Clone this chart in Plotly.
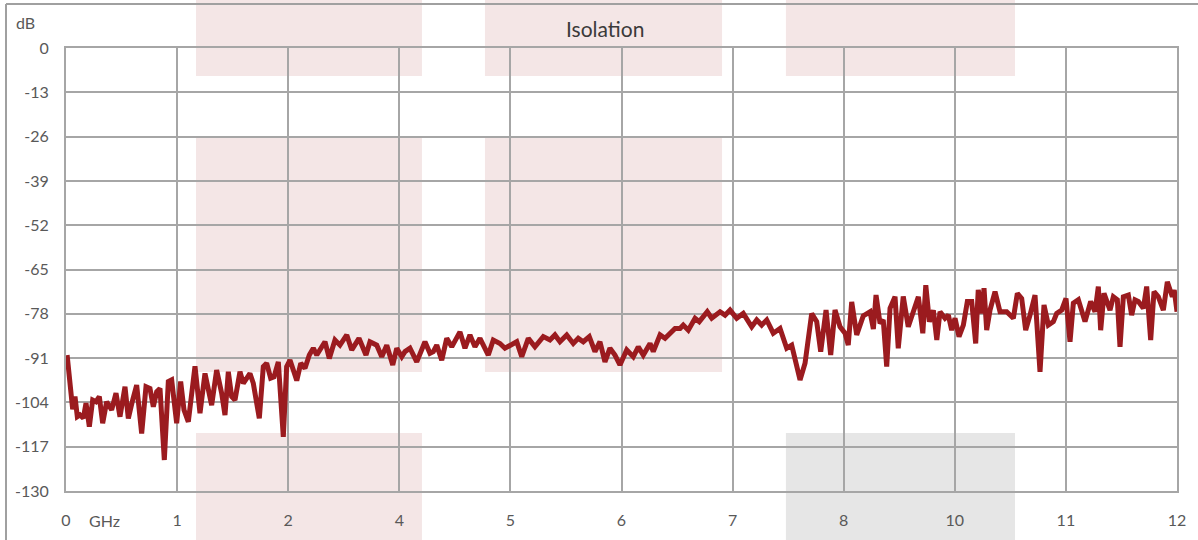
import plotly.graph_objects as go

# x position along the axis (one unit per labelled division), y isolation in dB
freq_pos = [0.01, 0.060, 0.081, 0.102, 0.126, 0.156, 0.180, 0.210, 0.240, 0.270, 0.300, 0.330, 0.366, 0.411,
            0.450, 0.486, 0.531, 0.561, 0.600, 0.636, 0.681, 0.720, 0.756, 0.786, 0.816, 0.846, 0.885, 0.921,
            0.951, 0.996, 1.032, 1.062, 1.101, 1.161, 1.206, 1.251, 1.311, 1.356, 1.401, 1.431, 1.461, 1.491,
            1.521, 1.566, 1.596, 1.626, 1.656, 1.686, 1.740, 1.776, 1.806, 1.842, 1.872, 1.911, 1.956, 1.986,
            2.016, 2.046, 2.077, 2.113, 2.151, 2.190, 2.226, 2.257, 2.331, 2.370, 2.421, 2.466, 2.527, 2.572,
            2.637, 2.700, 2.736, 2.797, 2.842, 2.887, 2.941, 2.977, 3.022, 3.051, 3.096, 3.157, 3.231, 3.276,
            3.306, 3.337, 3.382, 3.427, 3.472, 3.546, 3.591, 3.636, 3.681, 3.726, 3.801, 3.846, 3.906, 3.951,
            4.057, 4.102, 4.161, 4.221, 4.296, 4.356, 4.401, 4.446, 4.507, 4.566, 4.611, 4.656, 4.710, 4.761,
            4.806, 4.851, 4.896, 4.941, 4.986, 5.047, 5.106, 5.151, 5.196, 5.257, 5.286, 5.347, 5.392, 5.482,
            5.527, 5.556, 5.601, 5.662, 5.700, 5.772, 5.812, 5.887, 5.932, 5.977, 6.037, 6.096, 6.172, 6.217,
            6.262, 6.307, 6.366, 6.427, 6.487, 6.532, 6.607, 6.652, 6.712, 6.757, 6.793, 6.841, 6.883, 6.922,
            6.967, 7.012, 7.041, 7.072, 7.117, 7.176, 7.237, 7.267, 7.291, 7.327, 7.356, 7.387, 7.417, 7.462,
            7.491, 7.536, 7.581, 7.672, 7.712, 7.739, 7.771, 7.807, 7.838, 7.867, 7.912, 7.942, 7.972, 8.002,
            8.038, 8.077, 8.113, 8.152, 8.188, 8.211, 8.242, 8.263, 8.287, 8.317, 8.362, 8.407, 8.467, 8.527,
            8.563, 8.602, 8.638, 8.677, 8.722, 8.767, 8.803, 8.842, 8.887, 8.917, 8.962, 9.001, 9.037, 9.067,
            9.112, 9.172, 9.223, 9.262, 9.292, 9.313, 9.343, 9.397, 9.427, 9.463, 9.487, 9.517, 9.562, 9.592,
            9.622, 9.652, 9.697, 9.727, 9.763, 9.793, 9.832, 9.877, 9.913, 9.958, 9.975, 10.0]

isolation_db = [-90.1, -106.0, -102.3, -108.2, -107.7, -108.6, -104.2, -111.1, -103.3, -103.8, -102.3, -110.1,
                -103.8, -106.2, -101.3, -108.2, -99.4, -108.7, -103.3, -98.9, -113.1, -99.4, -99.9, -105.3,
                -100.9, -99.9, -120.9, -97.9, -97.4, -110.1, -97.9, -106.2, -109.7, -93.4, -107.2, -95.5,
                -104.8, -94.5, -101.3, -107.7, -95.0, -102.3, -103.3, -95.0, -98.4, -96.9, -95.5, -98.4,
                -108.7, -93.5, -92.5, -96.9, -96.5, -92.1, -114.1, -93.5, -91.6, -94.5, -97.6, -92.5, -94.0,
                -90.1, -88.1, -90.1, -86.2, -91.1, -85.7, -87.2, -84.2, -88.6, -85.2, -90.1, -86.2, -87.2,
                -90.6, -87.2, -93.0, -88.1, -90.6, -89.1, -88.1, -92.1, -86.2, -89.6, -89.1, -87.2, -91.6,
                -85.2, -87.7, -83.3, -88.1, -84.2, -87.7, -85.2, -90.1, -85.7, -86.7, -88.1, -86.2, -90.6,
                -85.2, -87.7, -84.7, -85.7, -84.2, -86.2, -84.2, -86.7, -85.2, -86.2, -84.7, -89.1, -86.2,
                -92.1, -88.1, -90.1, -93.0, -88.6, -90.6, -87.7, -90.1, -86.7, -89.1, -84.2, -85.2, -82.3,
                -82.3, -81.3, -82.8, -79.3, -80.3, -77.4, -79.3, -77.4, -78.4, -76.9, -79.3, -77.9, -81.8,
                -79.8, -81.3, -79.8, -83.7, -82.3, -88.1, -87.2, -97.4, -92.5, -77.9, -80.3, -89.1, -76.9,
                -90.1, -76.9, -81.8, -83.7, -87.2, -74.5, -84.2, -78.6, -77.4, -82.5, -72.5, -80.8, -79.8,
                -93.5, -76.4, -73.0, -88.1, -72.9, -81.8, -73.0, -83.7, -69.6, -80.3, -77.0, -85.7, -77.4,
                -79.3, -78.4, -82.8, -79.3, -84.7, -81.3, -74.4, -74.4, -86.7, -71.0, -77.9, -70.5, -82.8,
                -76.9, -71.5, -77.4, -77.4, -79.3, -72.0, -73.5, -82.8, -78.4, -72.5, -95.0, -75.4, -81.3,
                -80.3, -77.9, -76.9, -73.5, -86.2, -74.9, -73.9, -80.3, -74.4, -77.4, -70.0, -82.8, -72.0,
                -76.9, -73.0, -73.9, -87.7, -73.0, -72.5, -78.4, -73.9, -74.4, -76.4, -70.0, -85.7, -71.5,
                -73.0, -76.9, -68.6, -73.0, -71.0, -77.4]

x_tickvals = list(range(11))
x_ticktext = ["0", "1", "2", "4", "5", "6", "7", "8", "10", "11", "12"]
y_tickvals = [0, -13, -26, -39, -52, -65, -78, -91, -104, -117, -130]
y_ticktext = ["0", "-13", "-26", "-39", "-52", "-65", "-78", "-91", "-104", "-117", "-130"]

GRID = "#a6a6a6"
PINK = "#f4e6e6"
GREY = "#e6e6e6"
TXT = "#595959"
FONT = "Lato, Noto Sans, sans-serif"

fig = go.Figure()
fig.add_trace(go.Scatter(x=freq_pos, y=isolation_db, mode="lines",
                         line=dict(color="#9b1b1f", width=5), showlegend=False,
                         hoverinfo="x+y"))

# background bands (paper coordinates)
cols = [(0.117, 0.3204), (0.3771, 0.5905), (0.648, 0.8542)]
top = (0.9368, 1.11)
mid = (0.2686, 0.7968)
bot = (-0.12, 0.1309)
bands = [
    (cols[0], top, PINK), (cols[0], mid, PINK), (cols[0], bot, PINK),
    (cols[1], top, PINK), (cols[1], mid, PINK),
    (cols[2], top, PINK), (cols[2], bot, GREY),
]
for (x0, x1), (y0, y1), c in bands:
    fig.add_shape(type="rect", xref="paper", yref="paper", x0=x0, x1=x1, y0=y0, y1=y1,
                  fillcolor=c, line=dict(width=0), layer="below")

# outer frame (left and top edges of the chart border)
fig.add_shape(type="line", xref="paper", yref="paper", x0=-0.054, x1=-0.054, y0=-0.3, y1=1.0993,
              line=dict(color="#a0a0a0", width=2), layer="above")
fig.add_shape(type="line", xref="paper", yref="paper", x0=-0.054, x1=1.2, y0=1.0993, y1=1.0993,
              line=dict(color="#a0a0a0", width=2), layer="above")

fig.add_annotation(text="Isolation", xref="paper", yref="paper", x=0.485, y=1.0445,
                   showarrow=False, font=dict(size=21, color="#3a3a3a", family=FONT),
                   xanchor="center", yanchor="middle")
fig.add_annotation(text="dB", xref="paper", yref="paper", x=-0.0365, y=1.057,
                   showarrow=False, font=dict(size=16, color=TXT, family=FONT),
                   xanchor="center", yanchor="middle")
fig.add_annotation(text="GHz", xref="paper", yref="paper", x=0.035, y=-0.0655,
                   showarrow=False, font=dict(size=16, color=TXT, family=FONT),
                   xanchor="center", yanchor="middle")

fig.update_layout(
    width=1198, height=540,
    margin=dict(l=66, r=21, t=48, b=49),
    paper_bgcolor="white", plot_bgcolor="rgba(0,0,0,0)",
    font=dict(family=FONT, color=TXT),
    xaxis=dict(range=[0, 10], tickvals=x_tickvals, ticktext=x_ticktext,
               showgrid=True, gridcolor=GRID, gridwidth=2, zeroline=False,
               showline=True, mirror=True, linecolor=GRID, linewidth=2,
               ticks="outside", ticklen=14, tickcolor="rgba(0,0,0,0)",
               tickfont=dict(size=16, color=TXT)),
    yaxis=dict(range=[-130, 0], tickvals=y_tickvals, ticktext=y_ticktext,
               showgrid=True, gridcolor=GRID, gridwidth=2, zeroline=False,
               showline=True, mirror=True, linecolor=GRID, linewidth=2,
               ticks="outside", ticklen=12, tickcolor="rgba(0,0,0,0)",
               tickfont=dict(size=16, color=TXT)),
)

fig.write_html("out.html", config={"displayModeBar": False},
               post_script="document.body.style.margin='0';")
